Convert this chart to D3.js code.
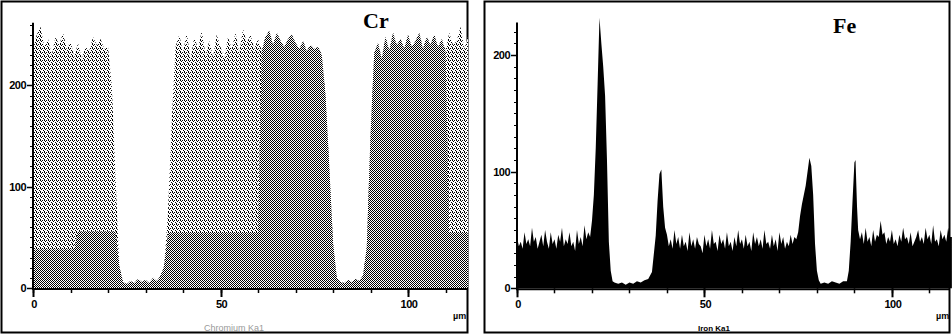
<!DOCTYPE html>
<html>
<head>
<meta charset="utf-8">
<script src="https://cdn.jsdelivr.net/npm/d3@7"></script>
<style>
  body { margin: 0; background: #fff; }
  text { font-family: "Liberation Sans", Arial, sans-serif; }
</style>
</head>
<body>
<div id="chart"></div>
<script>
// Cr line scan: [position µm, counts]
const crScan = [
  [0, 236], [1, 250], [2, 258], [3, 238], [4, 246], [5, 230], [6, 248], [7, 240], [8, 252], [9, 236],
  [10, 244], [11, 228], [12, 242], [13, 226], [14, 238], [15, 234], [16, 248], [17, 240], [18, 246], [19, 236],
  [20, 238], [21, 200], [22, 110], [23, 22], [24, 6], [25, 4], [26, 7], [27, 5], [28, 9], [29, 6],
  [30, 8], [31, 5], [32, 10], [33, 7], [34, 12], [35, 22], [36, 75], [37, 165], [38, 238], [39, 250],
  [40, 232], [41, 252], [42, 226], [43, 248], [44, 236], [45, 254], [46, 230], [47, 244], [48, 228], [49, 250],
  [50, 238], [51, 226], [52, 248], [53, 236], [54, 252], [55, 232], [56, 256], [57, 242], [58, 250], [59, 236],
  [60, 246], [61, 234], [62, 248], [63, 254], [64, 240], [65, 252], [66, 244], [67, 238], [68, 246], [69, 250],
  [70, 242], [71, 236], [72, 244], [73, 234], [74, 240], [75, 236], [76, 238], [77, 230], [78, 190], [79, 120],
  [80, 45], [81, 10], [82, 6], [83, 5], [84, 8], [85, 6], [86, 9], [87, 7], [88, 12], [89, 40],
  [90, 150], [91, 232], [92, 242], [93, 226], [94, 248], [95, 234], [96, 252], [97, 240], [98, 246], [99, 236],
  [100, 250], [101, 238], [102, 244], [103, 252], [104, 236], [105, 248], [106, 240], [107, 250], [108, 238], [109, 246],
  [110, 234], [111, 252], [112, 240], [113, 244], [114, 258], [115, 236], [116, 248]
];

// stretches where the dense shading stops below the top: [from µm, to µm, counts]
const crDenseBands = [[0, 11.5, 38], [11.5, 22.5, 56], [34, 61, 54], [111, 117, 54]];

// Fe line scan: [position µm, counts]
const feScan = [
  [0, 44], [0.5, 36], [1, 40], [1.5, 34], [2, 48], [2.5, 38], [3, 42], [3.5, 36], [4, 52], [4.5, 40],
  [5, 44], [5.5, 34], [6, 40], [6.5, 46], [7, 36], [7.5, 50], [8, 40], [8.5, 34], [9, 48], [9.5, 38],
  [10, 42], [10.5, 34], [11, 46], [11.5, 40], [12, 52], [12.5, 36], [13, 42], [13.5, 38], [14, 48], [14.5, 36],
  [15, 40], [15.5, 32], [16, 50], [16.5, 38], [17, 44], [17.5, 36], [18, 54], [18.5, 42], [19, 48], [19.5, 44],
  [20, 58], [20.5, 80], [21, 120], [21.5, 175], [22, 232], [22.5, 210], [23, 190], [23.5, 165], [24, 110],
  [24.5, 40], [25, 15], [25.5, 6], [26, 5], [27, 4], [28, 5], [29, 3], [30, 5], [31, 4], [32, 6], [33, 5],
  [34, 7], [35, 8], [36, 14], [37, 45], [37.5, 75], [38, 98], [38.5, 102], [39, 70], [39.5, 52], [40, 46],
  [40.5, 36], [41, 42], [41.5, 34], [42, 50], [42.5, 38], [43, 44], [43.5, 34], [44, 46], [44.5, 36], [45, 40],
  [45.5, 32], [46, 48], [46.5, 36], [47, 42], [47.5, 34], [48, 44], [48.5, 38], [49, 36], [49.5, 30], [50, 46],
  [50.5, 36], [51, 42], [51.5, 34], [52, 50], [52.5, 38], [53, 40], [53.5, 32], [54, 46], [54.5, 38], [55, 42],
  [55.5, 34], [56, 48], [56.5, 36], [57, 40], [57.5, 32], [58, 44], [58.5, 36], [59, 50], [59.5, 38], [60, 42],
  [60.5, 34], [61, 46], [61.5, 36], [62, 40], [62.5, 32], [63, 48], [63.5, 38], [64, 44], [64.5, 36], [65, 42],
  [65.5, 34], [66, 50], [66.5, 38], [67, 40], [67.5, 34], [68, 46], [68.5, 36], [69, 42], [69.5, 32], [70, 48],
  [70.5, 38], [71, 44], [71.5, 34], [72, 40], [72.5, 36], [73, 46], [73.5, 38], [74, 44], [74.5, 42],
  [75, 48], [75.5, 62], [76, 72], [76.5, 80], [77, 88], [77.5, 100],
  [78, 112], [78.5, 105], [79, 80], [79.5, 38], [80, 15], [80.5, 7], [81, 4], [82, 5], [83, 4], [84, 6],
  [85, 5], [86, 4], [87, 6], [88, 6], [88.5, 15], [89, 40], [89.5, 75], [90, 108], [90.3, 110], [90.7, 70],
  [91, 50], [91.5, 42], [92, 48], [92.5, 38], [93, 52], [93.5, 40], [94, 44], [94.5, 36], [95, 50], [95.5, 40],
  [96, 46], [96.5, 44], [97, 58], [97.5, 46], [98, 48], [98.5, 38], [99, 44], [99.5, 40], [100, 50], [100.5, 38],
  [101, 42], [101.5, 36], [102, 46], [102.5, 40], [103, 52], [103.5, 42], [104, 44], [104.5, 38], [105, 48],
  [105.5, 36], [106, 40], [106.5, 44], [107, 50], [107.5, 40], [108, 44], [108.5, 38], [109, 52], [109.5, 42],
  [110, 46], [110.5, 38], [111, 54], [111.5, 40], [112, 42], [112.5, 36], [113, 50], [113.5, 42], [114, 46],
  [114.5, 40], [115, 52], [115.5, 44], [116, 44]
];

const xTicksMajor = [0, 50, 100];
const yTicksMajor = [0, 100, 200];

const width = 952;
const height = 335;

const svg = d3.select("#chart")
  .append("svg")
  .attr("width", width)
  .attr("height", height)
  .style("display", "block");

const defs = svg.append("defs");

const dense = defs.append("pattern")
  .attr("id", "dense")
  .attr("width", 2).attr("height", 2)
  .attr("patternUnits", "userSpaceOnUse");
dense.append("rect").attr("width", 2).attr("height", 2).attr("fill", "#fff");
dense.append("rect").attr("x", 0).attr("y", 0).attr("width", 1).attr("height", 1).attr("fill", "#000");
dense.append("rect").attr("x", 1).attr("y", 1).attr("width", 1).attr("height", 1).attr("fill", "#000");

const light = defs.append("pattern")
  .attr("id", "light")
  .attr("width", 4).attr("height", 4)
  .attr("patternUnits", "userSpaceOnUse");
light.append("rect").attr("width", 4).attr("height", 4).attr("fill", "#fff");
[[0, 0], [2, 0], [1, 1], [3, 2], [0, 3]].forEach(p => {
  light.append("rect").attr("x", p[0]).attr("y", p[1]).attr("width", 1).attr("height", 1).attr("fill", "#000");
});

svg.selectAll("pattern rect").attr("shape-rendering", "crispEdges");

function drawAxes(g, x, y, yMax) {
  // y axis
  g.append("line")
    .attr("x1", x(0)).attr("x2", x(0))
    .attr("y1", y(0)).attr("y2", y(yMax))
    .attr("stroke", "#000").attr("stroke-width", 2);
  g.selectAll(".yminor")
    .data(d3.range(0, yMax, 10))
    .enter().append("line")
    .attr("x1", x(0) - 3).attr("x2", x(0))
    .attr("y1", d => Math.round(y(d)) + 0.5).attr("y2", d => Math.round(y(d)) + 0.5)
    .attr("stroke", "#000");
  g.selectAll(".ymajor")
    .data(yTicksMajor)
    .enter().append("line")
    .attr("x1", x(0) - 6).attr("x2", x(0))
    .attr("y1", d => Math.round(y(d)) + 0.5).attr("y2", d => Math.round(y(d)) + 0.5)
    .attr("stroke", "#000").attr("stroke-width", 1.5);
  g.selectAll(".ylab")
    .data(yTicksMajor)
    .enter().append("text")
    .attr("x", x(0) - 7)
    .attr("y", d => y(d) + 4)
    .attr("text-anchor", "end")
    .attr("font-size", "11px")
    .attr("font-weight", "bold")
    .attr("letter-spacing", "-0.5px")
    .text(d => d);

  // x axis
  const xMax = x.domain()[1];
  g.append("line")
    .attr("x1", x(0) - 1).attr("x2", x(xMax))
    .attr("y1", y(0) + 1).attr("y2", y(0) + 1)
    .attr("stroke", "#000").attr("stroke-width", 2);
  g.selectAll(".xminor")
    .data(d3.range(0, xMax, 10))
    .enter().append("line")
    .attr("x1", d => Math.round(x(d)) + 0.5).attr("x2", d => Math.round(x(d)) + 0.5)
    .attr("y1", y(0)).attr("y2", y(0) + 5)
    .attr("stroke", "#000").attr("stroke-width", 1.5);
  g.selectAll(".xmajor")
    .data(xTicksMajor)
    .enter().append("line")
    .attr("x1", d => Math.round(x(d)) + 0.5).attr("x2", d => Math.round(x(d)) + 0.5)
    .attr("y1", y(0)).attr("y2", y(0) + 9)
    .attr("stroke", "#000").attr("stroke-width", 2);
  g.selectAll(".xlab")
    .data(xTicksMajor)
    .enter().append("text")
    .attr("x", d => x(d) + 1)
    .attr("y", y(0) + 20)
    .attr("text-anchor", "middle")
    .attr("font-size", "11px")
    .attr("font-weight", "bold")
    .attr("letter-spacing", "-0.5px")
    .text(d => d);
}

// ---- left panel: Cr ----
svg.append("rect")
  .attr("x", 1.5).attr("y", 1.5)
  .attr("width", 466).attr("height", 331)
  .attr("fill", "none").attr("stroke", "#000").attr("stroke-width", 2);

const xCr = d3.scaleLinear().domain([0, 116]).range([33, 468]);
const yCr = d3.scaleLinear().domain([0, 262]).range([288, 22.7]);
const gCr = svg.append("g");

const denseTop = p => {
  const band = crDenseBands.find(b => p[0] >= b[0] && p[0] < b[1]);
  return band ? Math.min(p[1], band[2]) : p[1];
};

gCr.append("path")
  .datum(crScan)
  .attr("fill", "url(#light)")
  .attr("d", d3.area().x(d => xCr(d[0])).y0(yCr(0)).y1(d => yCr(d[1])));

gCr.append("path")
  .datum(crScan)
  .attr("fill", "url(#dense)")
  .attr("d", d3.area().x(d => xCr(d[0])).y0(yCr(0)).y1(d => yCr(denseTop(d))));

drawAxes(gCr, xCr, yCr, 262);

gCr.append("text")
  .attr("x", 363).attr("y", 28)
  .style("font-family", "'Liberation Serif', 'DejaVu Serif', serif")
  .attr("font-weight", "bold")
  .attr("font-size", "22px")
  .text("Cr");

gCr.append("text")
  .attr("x", 453).attr("y", 319)
  .attr("font-size", "9px").attr("font-weight", "bold")
  .text("µm");

gCr.append("text")
  .attr("x", 204).attr("y", 331)
  .attr("font-size", "9px").attr("fill", "#999")
  .text("Chromium Ka1");

// ---- right panel: Fe ----
svg.append("rect")
  .attr("x", 484.5).attr("y", 1.5)
  .attr("width", 465).attr("height", 331)
  .attr("fill", "none").attr("stroke", "#000").attr("stroke-width", 2);

const xFe = d3.scaleLinear().domain([0, 115.5]).range([517, 950]);
const yFe = d3.scaleLinear().domain([0, 228]).range([288.3, 22.5]);
const gFe = svg.append("g");

gFe.append("path")
  .datum(feScan)
  .attr("fill", "#000")
  .attr("d", d3.area().x(d => xFe(d[0])).y0(yFe(0)).y1(d => yFe(d[1])));

drawAxes(gFe, xFe, yFe, 228);

gFe.append("text")
  .attr("x", 833).attr("y", 33)
  .style("font-family", "'Liberation Serif', 'DejaVu Serif', serif")
  .attr("font-weight", "bold")
  .attr("font-size", "22px")
  .text("Fe");

gFe.append("text")
  .attr("x", 936).attr("y", 319)
  .attr("font-size", "9px").attr("font-weight", "bold")
  .text("µm");

gFe.append("text")
  .attr("x", 698).attr("y", 331)
  .attr("font-size", "8px").attr("font-weight", "bold")
  .text("Iron Ka1");
</script>
</body>
</html>
